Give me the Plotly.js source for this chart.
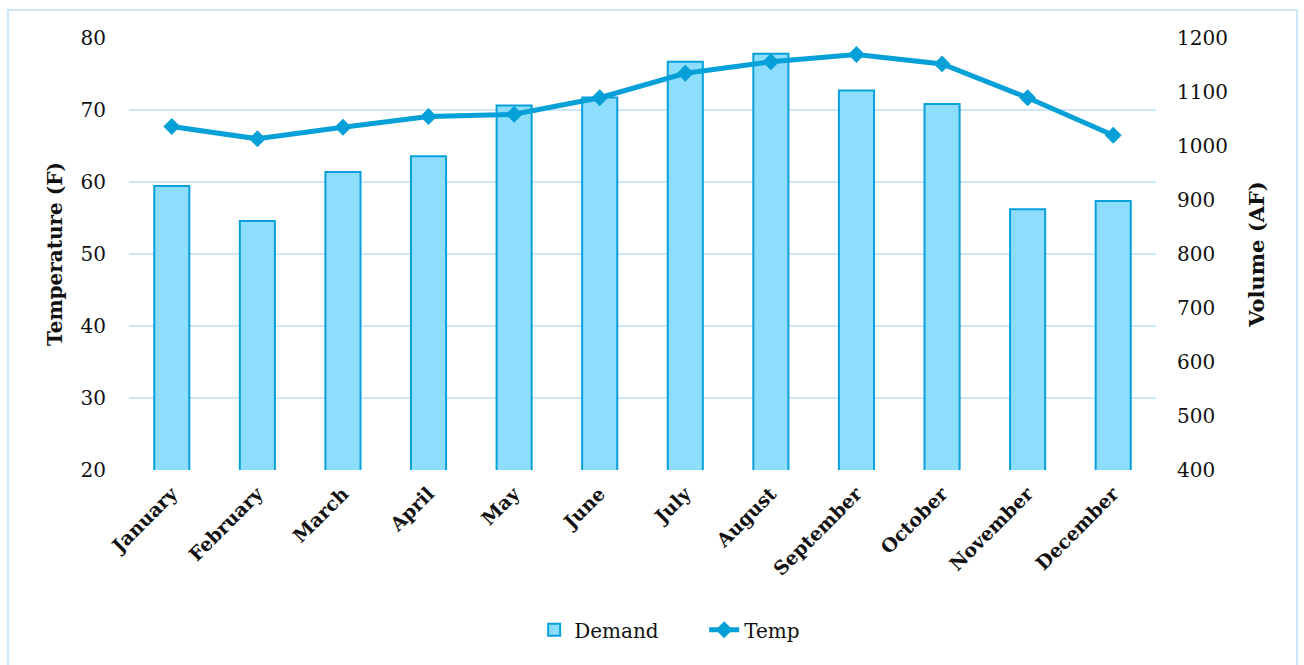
<!DOCTYPE html>
<html>
<head>
<meta charset="utf-8">
<script src="https://cdn.plot.ly/plotly-3.0.1.min.js"></script>
<style>
  html, body { margin: 0; padding: 0; background: #ffffff; }
  #wrap { position: relative; width: 1304px; height: 665px; }
  #chart { position: absolute; left: 0; top: 0; width: 1304px; height: 665px; }
  #frame { position: absolute; left: 7px; top: 9px; width: 1291px; height: 660px;
           border: 2px solid #cde7f9; pointer-events: none; box-sizing: border-box; }
</style>
</head>
<body>
<div id="wrap">
  <div id="chart"></div>
  <div id="frame"></div>
</div>
<script>
const months = ["January", "February", "March", "April", "May", "June",
                "July", "August", "September", "October", "November", "December"];
const demandAF = [926, 861, 952, 981, 1075, 1090, 1156, 1171, 1103, 1078, 883, 898];
const tempF = [67.7, 66.0, 67.6, 69.1, 69.4, 71.7, 75.1, 76.7, 77.7, 76.4, 71.7, 66.5];

const FONT = "DejaVu Serif";

const demandTrace = {
  type: "bar",
  name: "Demand",
  x: months,
  y: demandAF,
  yaxis: "y",
  marker: { color: "#8cdefc", line: { color: "#0aa0dc", width: 2 } },
  hoverinfo: "skip"
};

const tempTrace = {
  type: "scatter",
  mode: "lines+markers",
  name: "Temp",
  x: months,
  y: tempF,
  yaxis: "y2",
  line: { color: "#05a0d8", width: 5 },
  marker: { symbol: "diamond", size: 13, color: "#05a0d8" },
  hoverinfo: "skip"
};

const layout = {
  width: 1304,
  height: 665,
  margin: { l: 129, r: 148, t: 38, b: 195 },
  paper_bgcolor: "#ffffff",
  plot_bgcolor: "#ffffff",
  font: { family: FONT, size: 20, color: "#111111" },
  bargap: 0.59,
  showlegend: true,
  legend: {
    orientation: "h",
    xref: "container", yref: "container",
    x: 0.54, xanchor: "center",
    y: 0.053, yanchor: "middle",
    entrywidth: 125,
    font: { family: FONT, size: 20, color: "#111111" },
    traceorder: "normal"
  },
  xaxis: {
    type: "category",
    range: [-0.5, 11.5],
    autorange: false,
    tickangle: -45,
    tickfont: { family: FONT, size: 19, weight: "bold", color: "#111111" },
    showgrid: false,
    showline: false,
    zeroline: false,
    ticks: "",
    ticklabelstandoff: 8
  },
  yaxis: {
    side: "right",
    range: [400, 1200],
    dtick: 100,
    showgrid: false,
    zeroline: false,
    showline: false,
    ticks: "",
    ticklabelstandoff: 20,
    tickfont: { family: FONT, size: 20, color: "#111111" },
    title: { text: "Volume (AF)", standoff: 22,
             font: { family: FONT, size: 21, weight: "bold", color: "#111111" } }
  },
  yaxis2: {
    overlaying: "y",
    side: "left",
    range: [20, 80],
    dtick: 10,
    showgrid: true,
    gridcolor: "#cde7f9",
    gridwidth: 2,
    zeroline: false,
    showline: false,
    ticks: "",
    ticklabelstandoff: 22,
    tickfont: { family: FONT, size: 20, color: "#111111" },
    title: { text: "Temperature (F)", standoff: 12,
             font: { family: FONT, size: 20, weight: "bold", color: "#111111" } }
  }
};

Plotly.newPlot("chart", [demandTrace, tempTrace], layout, { displayModeBar: false, staticPlot: true });
</script>
</body>
</html>
